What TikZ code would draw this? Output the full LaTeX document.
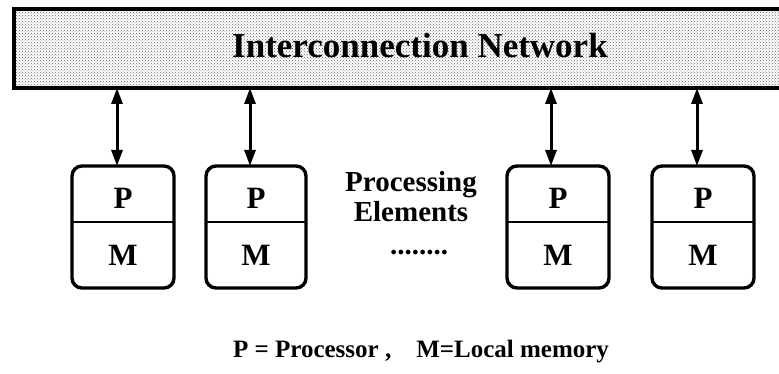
\documentclass[tikz,border=0pt]{standalone}
\usepackage{fontspec}
\setmainfont{Liberation Serif}
\usetikzlibrary{arrows.meta,patterns}
\begin{document}
\begin{tikzpicture}[x=1pt,y=-1pt,
  net/.style={pattern=crosshatch dots,pattern color=black!60},
  pebox/.style={draw=black,line width=3.4pt,rounded corners=10pt},
  link/.style={line width=3pt,{Triangle[length=16pt,width=11pt]}-{Triangle[length=16pt,width=11pt]}},
  lbl/.style={font=\bfseries\fontsize{31}{31}\selectfont,inner sep=0pt},
  big/.style={font=\bfseries\fontsize{35}{36}\selectfont,inner sep=0pt},
  side/.style={font=\bfseries\fontsize{29}{30}\selectfont,inner sep=0pt},
  legendfont/.style={font=\bfseries\fontsize{25}{28}\selectfont,inner sep=0pt}]
\useasboundingbox (0,0) rectangle (779,374);
% interconnection network bar
\fill[white] (14,9) rectangle (785,88);
\path[net] (14,9) rectangle (785,88);
\draw[line width=3.4pt] (790,9) -- (14,9) -- (14,88) -- (790,88);
\node[big] (net) at (420,46) {Interconnection Network};
\coordinate (nb1) at (117,88);
\coordinate (nb2) at (250,88);
\coordinate (nb3) at (551,88);
\coordinate (nb4) at (697,88);
% processing elements
\foreach \i/\xl/\xr/\xa in {1/72/174/117, 2/206/306/250, 3/507/609/551, 4/652/754/697}{
  \draw[pebox] (\xl,166) rectangle (\xr,288);
  \draw[line width=2.4pt] (\xl,222) -- (\xr,222);
  \coordinate (pe\i) at (\xa,166);
  \node[lbl] (p\i) at ({(\xl+\xr)/2},198) {P};
  \node[lbl] (m\i) at ({(\xl+\xr)/2},255) {M};
}
\foreach \i in {1,...,4}{
  \draw[link] (nb\i) -- (pe\i);
}
\node[side,align=center] (pel) at (411,197) {Processing\\Elements};
\node[side] (dots) at (419,253) {........};
\node[legendfont] (legend) at (421,352) {P = Processor ,\quad M=Local memory};
\end{tikzpicture}
\end{document}
